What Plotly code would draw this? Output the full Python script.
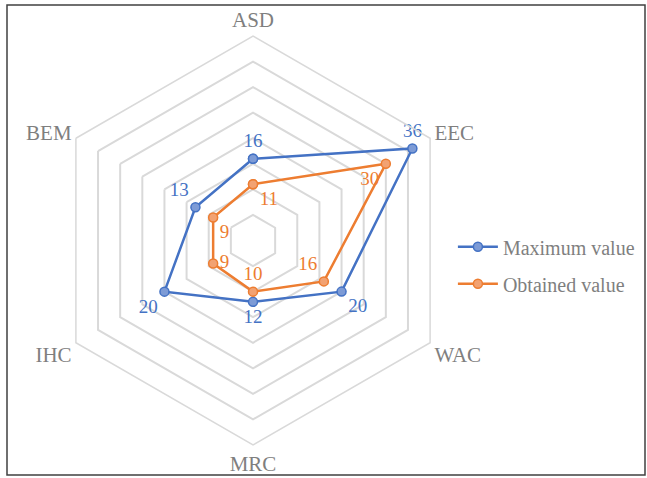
import plotly.graph_objects as go

# Criteria around the radar (clockwise from the top)
categories = ["ASD", "EEC", "WAC", "MRC", "IHC", "BEM"]
maximum_value = [16, 36, 20, 12, 20, 13]
obtained_value = [11, 30, 16, 10, 9, 9]

# Label placement for each point of each series
max_text_pos = ["top center", "top center", "bottom right", "bottom center", "bottom left", "top left"]
obt_text_pos = ["bottom right", "bottom left", "top left", "top center", "middle right", "bottom right"]

BLUE = "#4472C4"
ORANGE = "#ED7D31"
GRAY_TEXT = "#7F7F7F"
GRID = "#D9D9D9"
FONT = "Times New Roman, Liberation Serif, serif"


def closed(vals):
    return list(vals) + [vals[0]]


fig = go.Figure()

fig.add_trace(go.Scatterpolar(
    r=closed(maximum_value),
    theta=closed(categories),
    name="Maximum value",
    legendgroup="max",
    mode="lines+markers+text",
    text=[str(v) for v in maximum_value] + [""],
    textposition=max_text_pos + ["top center"],
    textfont=dict(family=FONT, size=19, color=BLUE),
    line=dict(color=BLUE, width=2.5),
    marker=dict(size=9, color="#7D9BD6", line=dict(color=BLUE, width=1.5)),
    cliponaxis=False,
))

fig.add_trace(go.Scatterpolar(
    r=closed(obtained_value),
    theta=closed(categories),
    name="Obtained value",
    legendgroup="obt",
    mode="lines+markers+text",
    text=[str(v) for v in obtained_value] + [""],
    textposition=obt_text_pos + ["top center"],
    textfont=dict(family=FONT, size=19, color=ORANGE),
    line=dict(color=ORANGE, width=2.5),
    marker=dict(size=9, color="#F2A272", line=dict(color=ORANGE, width=1.5)),
    cliponaxis=False,
))

W, H = 647, 478
cx, cy, R = 253, 240.5, 204.5  # polar centre and outer radius in pixels

fig.update_layout(
    width=W,
    height=H,
    margin=dict(l=0, r=0, t=0, b=0),
    paper_bgcolor="white",
    plot_bgcolor="white",
    font=dict(family=FONT, color=GRAY_TEXT),
    showlegend=True,
    legend=dict(
        x=0.700, y=0.445, xanchor="left", yanchor="middle",
        font=dict(family=FONT, size=20, color=GRAY_TEXT),
        bgcolor="rgba(0,0,0,0)",
        tracegroupgap=8,
        itemwidth=40,
    ),
    polar=dict(
        domain=dict(
            x=[(cx - R) / W, (cx + R) / W],
            y=[(H - cy - R) / H, (H - cy + R) / H],
        ),
        bgcolor="white",
        gridshape="linear",
        radialaxis=dict(
            range=[0, 40],
            dtick=5,
            tick0=0,
            showticklabels=False,
            ticks="",
            showline=False,
            showgrid=True,
            gridcolor=GRID,
            gridwidth=1.5,
        ),
        angularaxis=dict(
            rotation=90,
            direction="clockwise",
            showgrid=False,
            showline=True,
            linecolor=GRID,
            linewidth=1.5,
            ticks="",
            tickfont=dict(family=FONT, size=21, color=GRAY_TEXT),
        ),
    ),
    shapes=[
        dict(type="rect", xref="paper", yref="paper",
             x0=7 / W, x1=645 / W, y0=1 - 475 / H, y1=1 - 5 / H,
             line=dict(color="#404040", width=1.5), fillcolor="rgba(0,0,0,0)"),
    ],
)

fig.write_html("out.html")
